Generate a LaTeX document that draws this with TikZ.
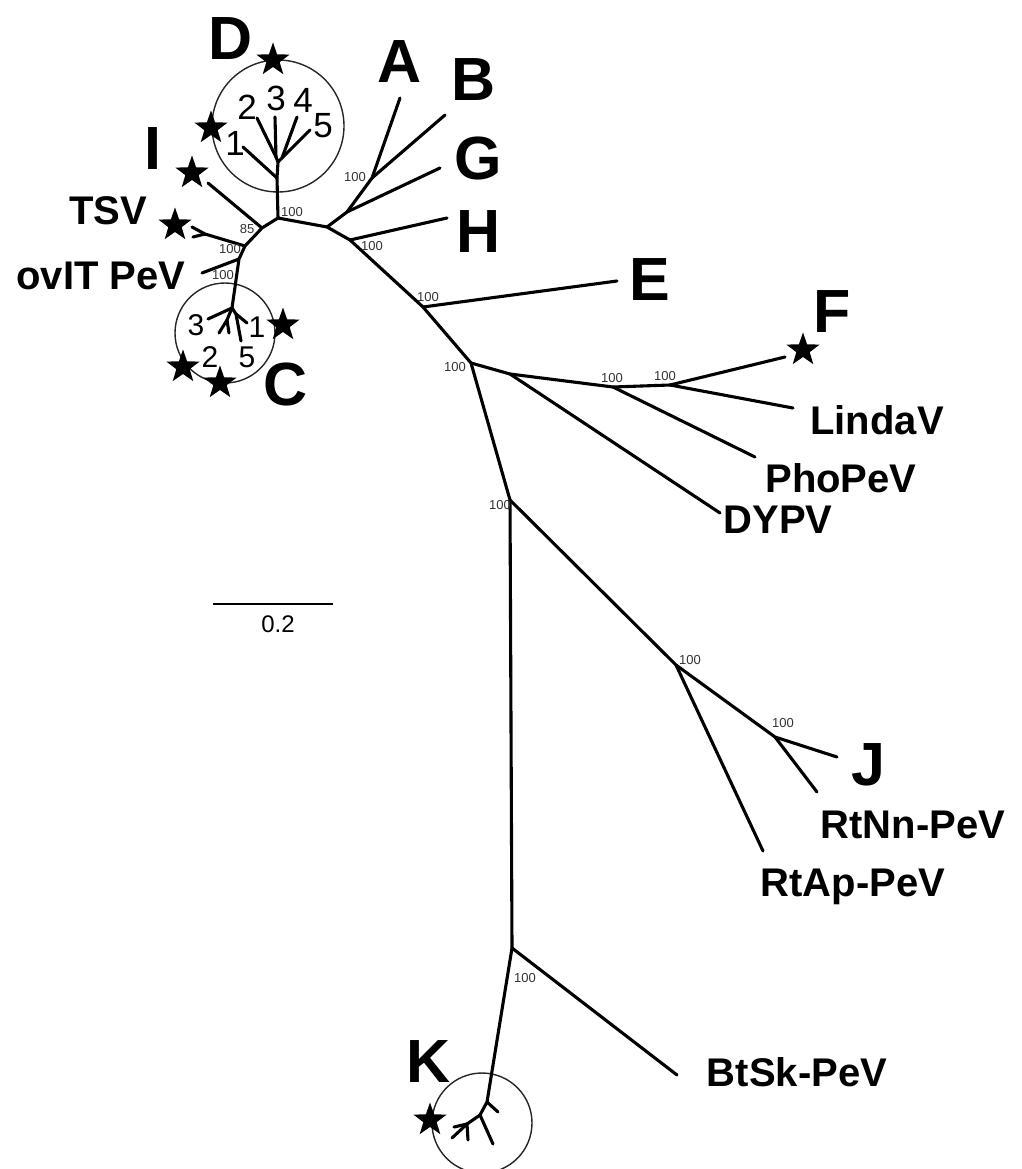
\documentclass[tikz,border=0pt]{standalone}
\usepackage{fontspec}
\setmainfont{Liberation Sans}
\usetikzlibrary{shapes.geometric}
\begin{document}
\begin{tikzpicture}[x=1pt,y=-1pt,
  br/.style={line width=3.1pt, line cap=round, line join=round},
  ring/.style={circle, draw=black!85, line width=1.4pt, inner sep=0pt},
  starmark/.style={star, star points=5, star point ratio=2.5, fill=black, draw=none, inner sep=0pt, minimum size=35pt},
  big/.style={font=\bfseries\fontsize{61}{61}\selectfont, inner sep=0pt, text depth=0pt},
  vname/.style={font=\bfseries\fontsize{40}{40}\selectfont, inner sep=0pt, text depth=0pt},
  boot/.style={font=\fontsize{13}{13}\selectfont, text=black!80, inner sep=0pt},
  digD/.style={font=\fontsize{35}{35}\selectfont, inner sep=0pt},
  digC/.style={font=\fontsize{30}{30}\selectfont, inner sep=0pt},
  scalelbl/.style={font=\fontsize{24}{24}\selectfont, inner sep=0pt}]
\useasboundingbox (0,0) rectangle (1021,1169);

% circles
\node[ring, minimum size=132pt] (cD) at (278,126) {};
\node[ring, minimum size=100pt] (cC) at (225,333) {};
\node[ring, minimum size=100pt] (cK) at (482,1123) {};

% ---- coordinates
\coordinate (n1) at (278,218);
\coordinate (d1) at (277,178);
\coordinate (d2) at (278,162);
\coordinate (d23) at (276,157);
\coordinate (d45) at (282,158);
\coordinate (t1) at (243,147);
\coordinate (t2) at (257,118);
\coordinate (t3) at (275,117);
\coordinate (t4) at (297,117);
\coordinate (t5) at (310,130);

\coordinate (n2) at (327,227);
\coordinate (nG) at (347,212);
\coordinate (nAB) at (372,178);
\coordinate (tA) at (400,98);
\coordinate (tB) at (445,115);
\coordinate (tG) at (440,168);
\coordinate (nH) at (350,240);
\coordinate (tH) at (447,218);
\coordinate (nE) at (423,307);
\coordinate (tE) at (617,281);
\coordinate (nF0) at (471,363);
\coordinate (nDY) at (510,374);
\coordinate (nPh) at (613,387);
\coordinate (nLF) at (670,385);
\coordinate (tF) at (785,357);
\coordinate (tL) at (793,408);
\coordinate (tP) at (755,457);
\coordinate (tD) at (720,513);
\coordinate (nJ0) at (510,500);
\coordinate (nJR) at (676,665);
\coordinate (nJ) at (775,737);
\coordinate (tJ) at (837,757);
\coordinate (tRN) at (817,792);
\coordinate (tRA) at (763,851);
\coordinate (nK0) at (512,948);
\coordinate (tBt) at (677,1075);
\coordinate (k1) at (487,1102);
\coordinate (k2) at (480,1115);
\coordinate (k3) at (467,1124);
\coordinate (kt0) at (498,1112);
\coordinate (kt1) at (452,1138);
\coordinate (kt2) at (493,1144);
\coordinate (kt3) at (468,1140);
\coordinate (kt4) at (454,1127);

\coordinate (nI) at (262,228);
\coordinate (tI) at (208,183);
\coordinate (nT) at (245,246);
\coordinate (tsv) at (205,234);
\coordinate (ts1) at (192,227);
\coordinate (ts2) at (193,237);
\coordinate (nO) at (239,259);
\coordinate (tO) at (202,273);
\coordinate (nC) at (232,308);
\coordinate (c3) at (208,319);
\coordinate (c2) at (227,320);
\coordinate (c2a) at (219,333);
\coordinate (c2b) at (229,333);
\coordinate (c15) at (236,314);
\coordinate (c1) at (247,323);
\coordinate (c5) at (241,341);

% ---- branches
\draw[br] (n1) -- (d1) -- (d2) -- (d23) -- (t3);
\draw[br] (d23) -- (t2);
\draw[br] (d2) -- (d45) -- (t4);
\draw[br] (d45) -- (t5);
\draw[br] (d1) -- (t1);

\draw[br] (n1) -- (n2) -- (nH) -- (nE) -- (nF0) -- (nJ0) -- (nK0) -- (k1) -- (k2) -- (k3) -- (kt1);
\draw[br] (n2) -- (nG) -- (nAB) -- (tA);
\draw[br] (nAB) -- (tB);
\draw[br] (nG) -- (tG);
\draw[br] (nH) -- (tH);
\draw[br] (nE) -- (tE);
\draw[br] (nF0) -- (nDY) -- (nPh) -- (nLF) -- (tF);
\draw[br] (nLF) -- (tL);
\draw[br] (nPh) -- (tP);
\draw[br] (nDY) -- (tD);
\draw[br] (nJ0) -- (nJR) -- (nJ) -- (tJ);
\draw[br] (nJ) -- (tRN);
\draw[br] (nJR) -- (tRA);
\draw[br] (nK0) -- (tBt);
\draw[br] (k1) -- (kt0);
\draw[br] (k2) -- (kt2);
\draw[br] (k3) -- (kt3);
\draw[br] (k3) -- (kt4);

\draw[br] (n1) -- (nI) -- (nT) -- (nO) -- (nC) -- (c3);
\draw[br] (nI) -- (tI);
\draw[br] (nT) -- (tsv) -- (ts1);
\draw[br] (tsv) -- (ts2);
\draw[br] (nO) -- (tO);
\draw[br] (nC) -- (c2) -- (c2a);
\draw[br] (c2) -- (c2b);
\draw[br] (nC) -- (c15) -- (c1);
\draw[br] (c15) -- (c5);

% ---- stars
\node[starmark] (sD1) at (273,60) {};
\node[starmark] (sD2) at (211,128) {};
\node[starmark] (sI) at (192,173) {};
\node[starmark] (sT) at (175,225) {};
\node[starmark] (sC1) at (283,325) {};
\node[starmark] (sC2) at (183,367) {};
\node[starmark] (sC5) at (220,383) {};
\node[starmark] (sF) at (803,350) {};
\node[starmark] (sK) at (430,1120) {};

% ---- big letters
\node[big] (lD) at (231,39) {D};
\node[big] (lA) at (400,62) {A};
\node[big] (lB) at (474,80) {B};
\node[big] (lG) at (478,158) {G};
\node[big] (lH) at (479,232) {H};
\node[big] (lI) at (153,149) {I};
\node[big] (lE) at (650,280) {E};
\node[big] (lF) at (832,312) {F};
\node[big] (lC) at (286,384) {C};
\node[big] (lJ) at (868,765) {J};
\node[big] (lK) at (429,1062) {K};

% ---- virus names
\node[vname] (lTSV) at (108,211) {TSV};
\node[vname] (lOv) at (101,276) {ovIT PeV};
\node[vname] (lLin) at (877,420) {LindaV};
\node[vname] (lPho) at (841,478) {PhoPeV};
\node[vname] (lDY) at (778,520) {DYPV};
\node[vname] (lRN) at (913,825) {RtNn-PeV};
\node[vname] (lRA) at (853,883) {RtAp-PeV};
\node[vname] (lBt) at (797,1072) {BtSk-PeV};

% ---- digits
\node[digD] (g1) at (235,143) {1};
\node[digD] (g2) at (247,107) {2};
\node[digD] (g3) at (276,98) {3};
\node[digD] (g4) at (303,100) {4};
\node[digD] (g5) at (323,126) {5};
\node[digC] (h3) at (196,325) {3};
\node[digC] (h1) at (257,327) {1};
\node[digC] (h2) at (210,357) {2};
\node[digC] (h5) at (247,357) {5};

% ---- bootstrap values
\node[boot] (b1) at (292,212) {100};
\node[boot] (b2) at (355,177) {100};
\node[boot] (b3) at (372,246) {100};
\node[boot] (b4) at (428,297) {100};
\node[boot] (b5) at (455,367) {100};
\node[boot] (b6) at (612,378) {100};
\node[boot] (b7) at (665,376) {100};
\node[boot] (b8) at (500,505) {100};
\node[boot] (b9) at (690,660) {100};
\node[boot] (b10) at (783,723) {100};
\node[boot] (b11) at (525,978) {100};
\node[boot] (b12) at (247,229) {85};
\node[boot] (b13) at (230,249) {100};
\node[boot] (b14) at (223,275) {100};

% ---- scale bar
\coordinate (s1) at (214,604);
\coordinate (s2) at (332,604);
\draw[line width=2.6pt, line cap=rect] (s1) -- (s2);
\node[scalelbl] (sl) at (278,624) {0.2};
\end{tikzpicture}
\end{document}
